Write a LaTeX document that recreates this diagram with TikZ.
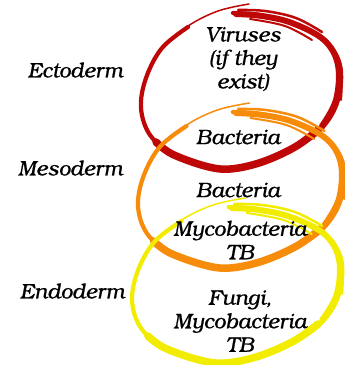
\documentclass[tikz,border=0pt]{standalone}
\usepackage{fontspec}
\setmainfont{texgyrebonum}[Extension=.otf, UprightFont=*-regular, ItalicFont=*-italic, BoldFont=*-bold, BoldItalicFont=*-bolditalic, ItalicFeatures={FakeBold=0.8}]
\definecolor{cred}{RGB}{190,8,8}
\definecolor{corange}{RGB}{247,140,10}
\definecolor{cyellow}{RGB}{242,236,0}
\tikzset{
  lbl/.style={font=\fontsize{21}{23.5}\selectfont\itshape, align=center, inner sep=0pt, text=black},
  brush/.style={line cap=round, line join=round},
}
\newcommand\brushloop[1]{%
  \draw[brush, #1, line width=1.5] plot[smooth, tension=0.6] coordinates{(249,4)(218,11)(188,26)(162,48)};
  \draw[brush, #1, line width=4.2] plot[smooth, tension=0.6] coordinates{(188,27)(162,48)(146,78)(141,108)(150,135)(172,153)(205,166)(230,170)(262,163)(295,148)(322,128)(338,100)(340,65)(324,40)(292,23)(260,15)(233,13)};
  \draw[brush, #1, line width=7.5] plot[smooth, tension=0.6] coordinates{(156,142)(172,154)(205,166)(230,169)(262,162)(295,147)(318,130)};
  \draw[brush, #1, line width=6] plot[smooth, tension=0.6] coordinates{(322,126)(336,100)(338,65)(324,40)(292,23)(262,16)(236,14)};
  \draw[brush, #1, line width=2.5] plot[smooth, tension=0.6] coordinates{(238,10)(265,11)(296,18)(322,32)};
  \draw[brush, #1, line width=2] plot[smooth, tension=0.6] coordinates{(250,19)(285,26)(312,40)};
  \draw[brush, #1, line width=2] plot[smooth, tension=0.6] coordinates{(330,48)(341,72)(341,100)};
}
\begin{document}
\begin{tikzpicture}[x=1pt,y=-1pt]
\useasboundingbox (0,0) rectangle (345,365);
\fill[white] (0,0) rectangle (345,365);
\begin{scope}
  \brushloop{cred}
\end{scope}
\begin{scope}[shift={(238,99)}, xscale=1.03, shift={(-238,0)}]
  \brushloop{corange}
\end{scope}
\begin{scope}[shift={(234,194)}, xscale=1.05, shift={(-238,0)}]
  \brushloop{cyellow}
\end{scope}
\node[lbl] (ecto) at (75,70) {Ectoderm};
\node[lbl] (meso) at (70,168) {Mesoderm};
\node[lbl] (endo) at (72,291) {Endoderm};
\node[lbl] (vir) at (243,59) {Viruses\\(if they\\exist)};
\node[lbl] (bac1) at (238,137) {Bacteria};
\node[lbl] (bac2) at (238,190) {Bacteria};
\node[lbl] (myco) at (240,240) {Mycobacteria\\TB};
\node[lbl] (fungi) at (240,321) {Fungi,\\Mycobacteria\\TB};
\end{tikzpicture}
\end{document}
